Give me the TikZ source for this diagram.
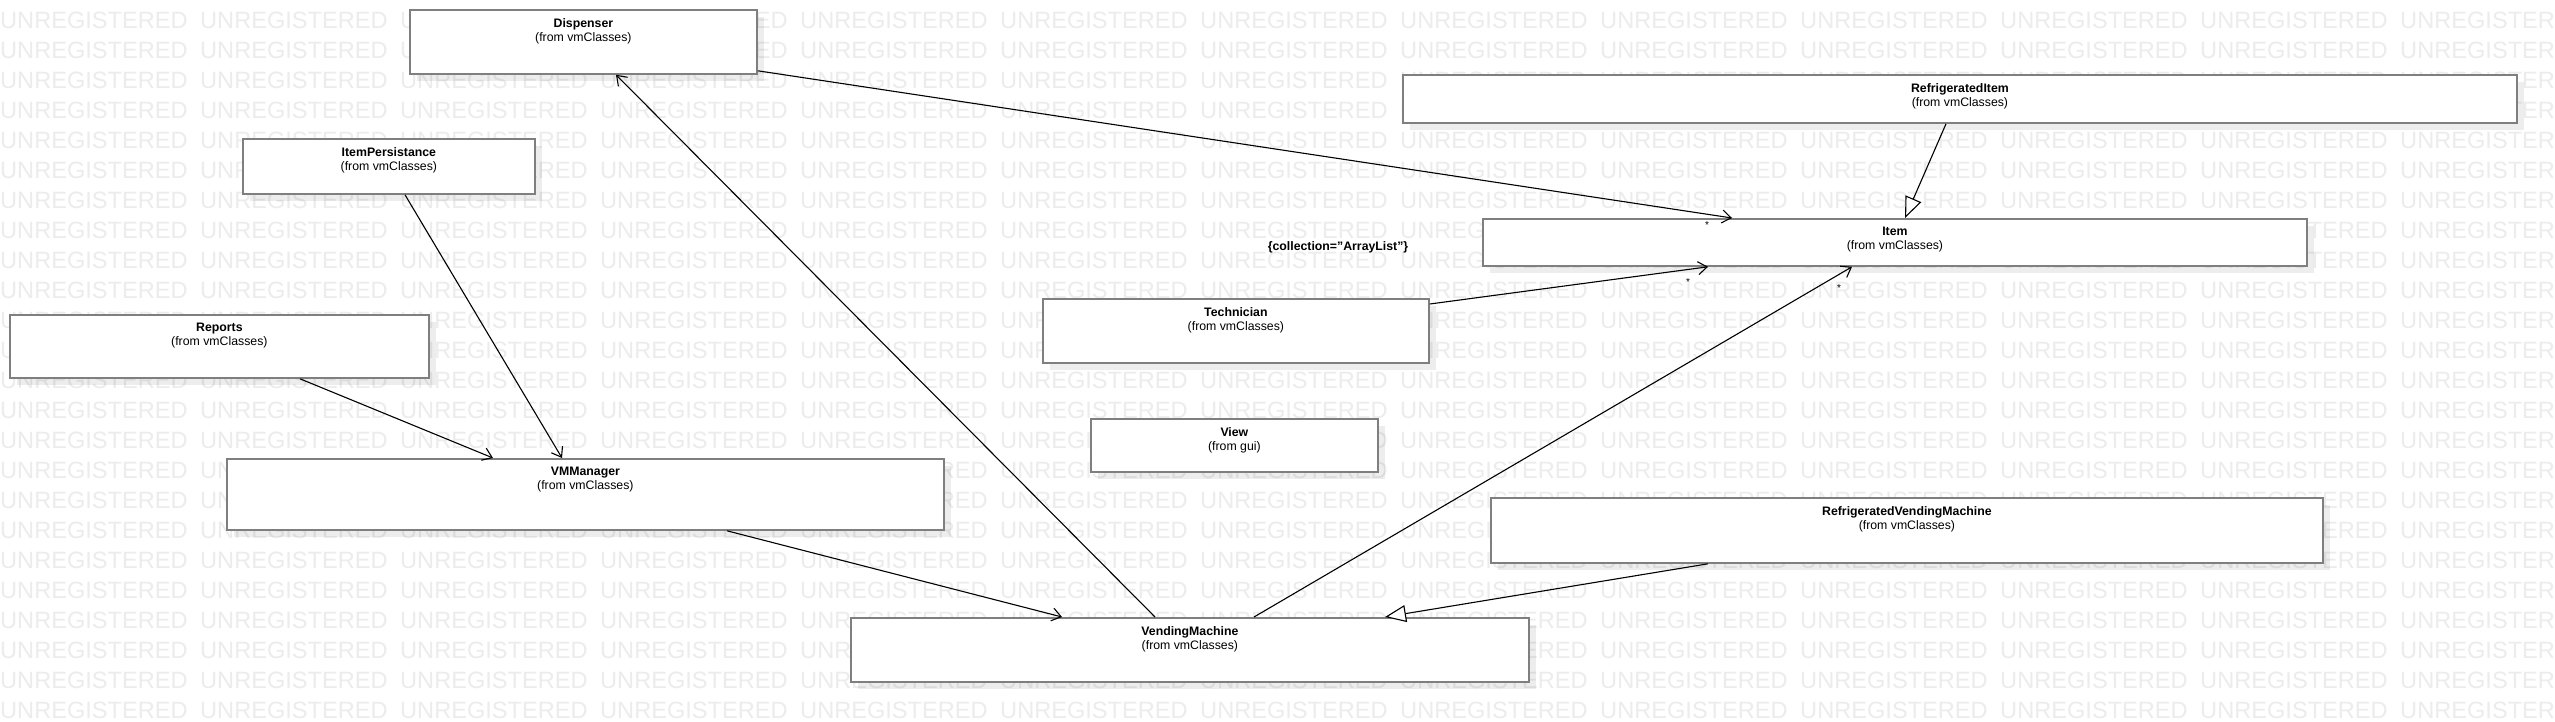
\documentclass[tikz,border=0pt]{standalone}
\usepackage{fontspec}
\setmainfont{Liberation Sans}
\usetikzlibrary{arrows.meta,calc,shadows}
\definecolor{boxgray}{HTML}{7F7F7F}
\definecolor{markgray}{HTML}{ECECEC}
\tikzset{
  class box/.style={
    draw=boxgray, line width=1.8pt, fill=white,
    anchor=north west, inner sep=0pt,
    minimum width=#1,
    drop shadow={shadow xshift=7pt, shadow yshift=-7pt, fill=black, opacity=0.07}
  },
  class box/.default=300pt,
  assoc/.style={draw=black, line width=1.1pt, -{Straight Barb[length=9pt,width=13pt]}},
  inherit/.style={draw=black, line width=1.1pt, -{Triangle[open,fill=white,length=21pt,width=17pt]}},
  mult/.style={font=\fontsize{10}{10}\selectfont, inner sep=0pt},
  watermark/.style={anchor=base west, inner sep=0pt, text=markgray, font=\fontsize{23.6}{23.6}\selectfont}
}
\newcommand{\cls}[3]{\vbox to #3{\vskip 8.5pt\halign{\hfil##\hfil\cr\textbf{#1}\cr(from #2)\cr}\vfil}}

\begin{document}
\begin{tikzpicture}[x=1pt, y=-1pt, font=\fontsize{12.3}{14}\selectfont]
\useasboundingbox[fill=white] (0,0) rectangle (2555,722);

% watermark
\foreach \r in {0,...,23}{
  \foreach \c in {0,...,12}{
    \node[watermark] (wm-\r-\c) at ({200*\c},{28.3+30*\r}) {UNREGISTERED};
  }
}

% classes
\node[class box=347pt] (dispenser) at (409,9) {\cls{Dispenser}{vmClasses}{64pt}};
\node[class box=1114pt] (refitem) at (1402,74) {\cls{RefrigeratedItem}{vmClasses}{48pt}};
\node[class box=292pt] (itempers) at (242,138) {\cls{ItemPersistance}{vmClasses}{55pt}};
\node[class box=824pt] (item) at (1482,218) {\cls{Item}{vmClasses}{47pt}};
\node[class box=419pt] (reports) at (9,314) {\cls{Reports}{vmClasses}{63pt}};
\node[class box=386pt] (technician) at (1042,298) {\cls{Technician}{vmClasses}{64pt}};
\node[class box=287pt] (view) at (1090,418) {\cls{View}{gui}{53pt}};
\node[class box=717pt] (vmmanager) at (226,458) {\cls{VMManager}{vmClasses}{71pt}};
\node[class box=832pt] (rvm) at (1490,497) {\cls{RefrigeratedVendingMachine}{vmClasses}{65pt}};
\node[class box=678pt] (vm) at (850,617) {\cls{VendingMachine}{vmClasses}{64pt}};

\node[font=\bfseries\fontsize{12.3}{14}\selectfont] (collection) at (1338,247) {\{collection="ArrayList"\}};

% associations
\draw[assoc] ($(dispenser.south east)+(0,-4)$) -- ($(item.north west)+(250,0)$);
\draw[assoc] ($(itempers.south west)+(163,0)$) -- ($(vmmanager.north west)+(336,0)$);
\draw[assoc] ($(reports.south west)+(291,0)$) -- ($(vmmanager.north west)+(267,0)$);
\draw[assoc] ($(vmmanager.south west)+(501,0)$) -- ($(vm.north west)+(212,0)$);
\draw[assoc] ($(vm.north west)+(305,0)$) -- ($(dispenser.south west)+(207,0)$);
\draw[assoc] ($(vm.north west)+(404,0)$) -- ($(item.south west)+(370,0)$);
\draw[assoc] ($(technician.north east)+(0,6)$) -- ($(item.south west)+(226,0)$);

% generalizations
\draw[inherit] ($(refitem.south west)+(544,0)$) -- ($(item.north west)+(423,0)$);
\draw[inherit] ($(rvm.south west)+(218,0)$) -- ($(vm.north west)+(535,0)$);

% multiplicities
\node[mult] (mult-disp) at ($(item.north west)+(225,7)$) {*};
\node[mult] (mult-tech) at ($(item.south west)+(206,15)$) {*};
\node[mult] (mult-vm) at ($(item.south west)+(357,21)$) {*};
\end{tikzpicture}
\end{document}
